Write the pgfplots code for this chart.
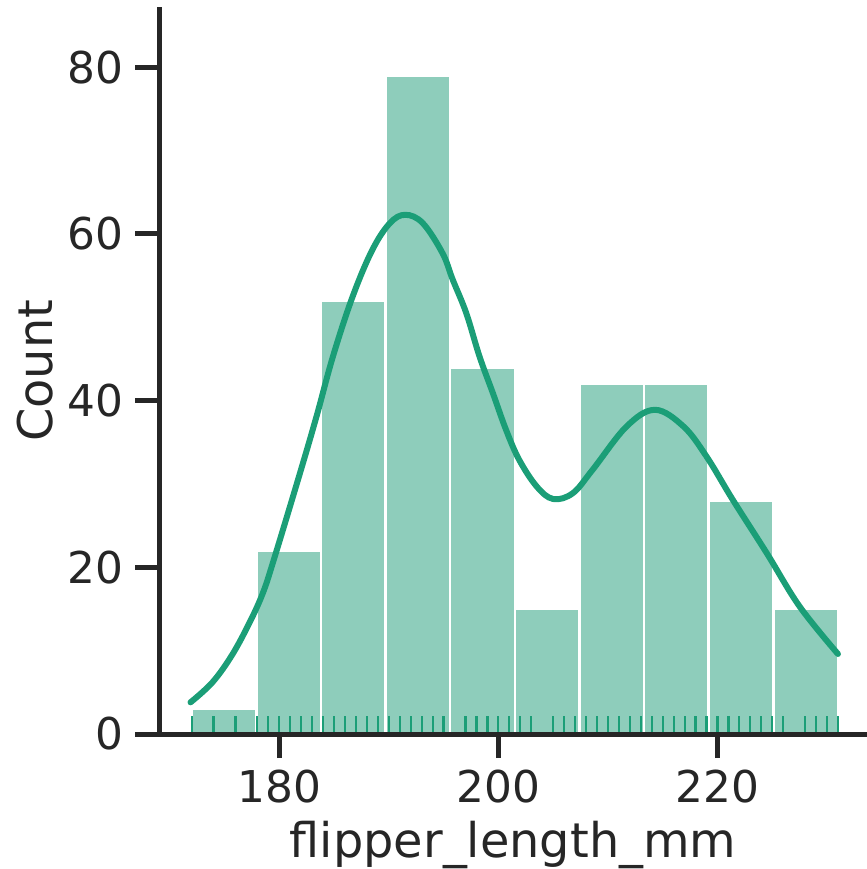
\documentclass[border=0pt]{standalone}
\usepackage{pgfplots}
\pgfplotsset{compat=1.18}
\usepackage{fontspec}
\setmainfont{DejaVu Sans}
\definecolor{barfill}{RGB}{142,205,187}
\definecolor{kdecol}{RGB}{27,158,119}
\definecolor{axc}{RGB}{38,38,38}
\begin{document}
\begin{tikzpicture}
\useasboundingbox (-159.3bp,-135bp) rectangle (707.7bp,734bp);
\begin{axis}[
  scale only axis, width=707.7bp, height=726.7bp,
  xmin=169.05, xmax=233.65, ymin=0, ymax=87.2,
  axis x line*=bottom, axis y line*=left,
  axis line style={line width=5bp, axc},
  xtick={180,200,220}, ytick={0,20,40,60,80},
  tick align=outside, major tick length=24bp,
  tick style={line width=5bp, axc},
  ticklabel style={font=\fontsize{44}{53}\selectfont, text=axc, inner sep=0pt},
  /pgf/number format/assume math mode=true,
  xticklabel shift=11.3bp, yticklabel shift=12bp,
  xlabel={flipper\_length\_mm}, ylabel={Count},
  every axis x label/.style={at={(axis description cs:0.5,-0.1697)}, anchor=base, font=\fontsize{48}{58}\selectfont, text=axc},
  every axis y label/.style={at={(axis description cs:-0.1516,0.5)}, rotate=90, anchor=base, font=\fontsize{48}{58}\selectfont, text=axc},
  axis on top, clip=false,
]
\addplot[ybar interval, fill=barfill, draw=white, line width=2.5bp] coordinates {
 (172,3) (177.9,22) (183.8,52) (189.7,79) (195.6,44) (201.5,15) (207.4,42) (213.3,42) (219.2,28) (225.1,15) (231,15)};
\addplot[kdecol, line width=6bp, smooth, tension=0.6, line cap=round, mark=none] coordinates {
 (171.9,3.8) (173.9,6.2) (175.7,9.5) (177.3,13.4) (178.5,16.9) (179.5,20.9) (181.8,30.9) (183.4,38.1)
 (184.9,45.3) (186.7,52.5) (188.5,58.1) (190.1,61.3) (191.5,62.3) (193.1,61.3) (194.9,57.7) (195.84,54.5)
 (197.07,50.5) (198.28,45.3) (199.5,40.9) (200.7,36.5) (201.9,32.9) (203.5,29.7) (205.0,28.2) (206.8,28.9)
 (208.6,31.7) (211.7,36.9) (214.3,38.9) (216.9,36.9) (219.0,33.3) (221.4,28.1) (224.5,21.7) (227.5,15.3)
 (231.0,9.6)};
\addplot[ycomb, kdecol, line width=2.2bp, mark=none] coordinates {
 (172,2.18) (174,2.18) (176,2.18) (178,2.18) (179,2.18) (180,2.18) (181,2.18) (182,2.18) (183,2.18)
 (184,2.18) (185,2.18) (186,2.18) (187,2.18) (188,2.18) (189,2.18) (190,2.18) (191,2.18) (192,2.18)
 (193,2.18) (194,2.18) (195,2.18) (197,2.18) (198,2.18) (199,2.18) (200,2.18) (201,2.18) (202,2.18)
 (203,2.18) (205,2.18) (206,2.18) (207,2.18) (208,2.18) (209,2.18) (210,2.18) (211,2.18) (212,2.18)
 (213,2.18) (214,2.18) (215,2.18) (216,2.18) (217,2.18) (218,2.18) (219,2.18) (220,2.18) (221,2.18)
 (222,2.18) (223,2.18) (224,2.18) (225,2.18) (226,2.18) (228,2.18) (229,2.18) (230,2.18) (231,2.18)};
\end{axis}
\end{tikzpicture}
\end{document}
